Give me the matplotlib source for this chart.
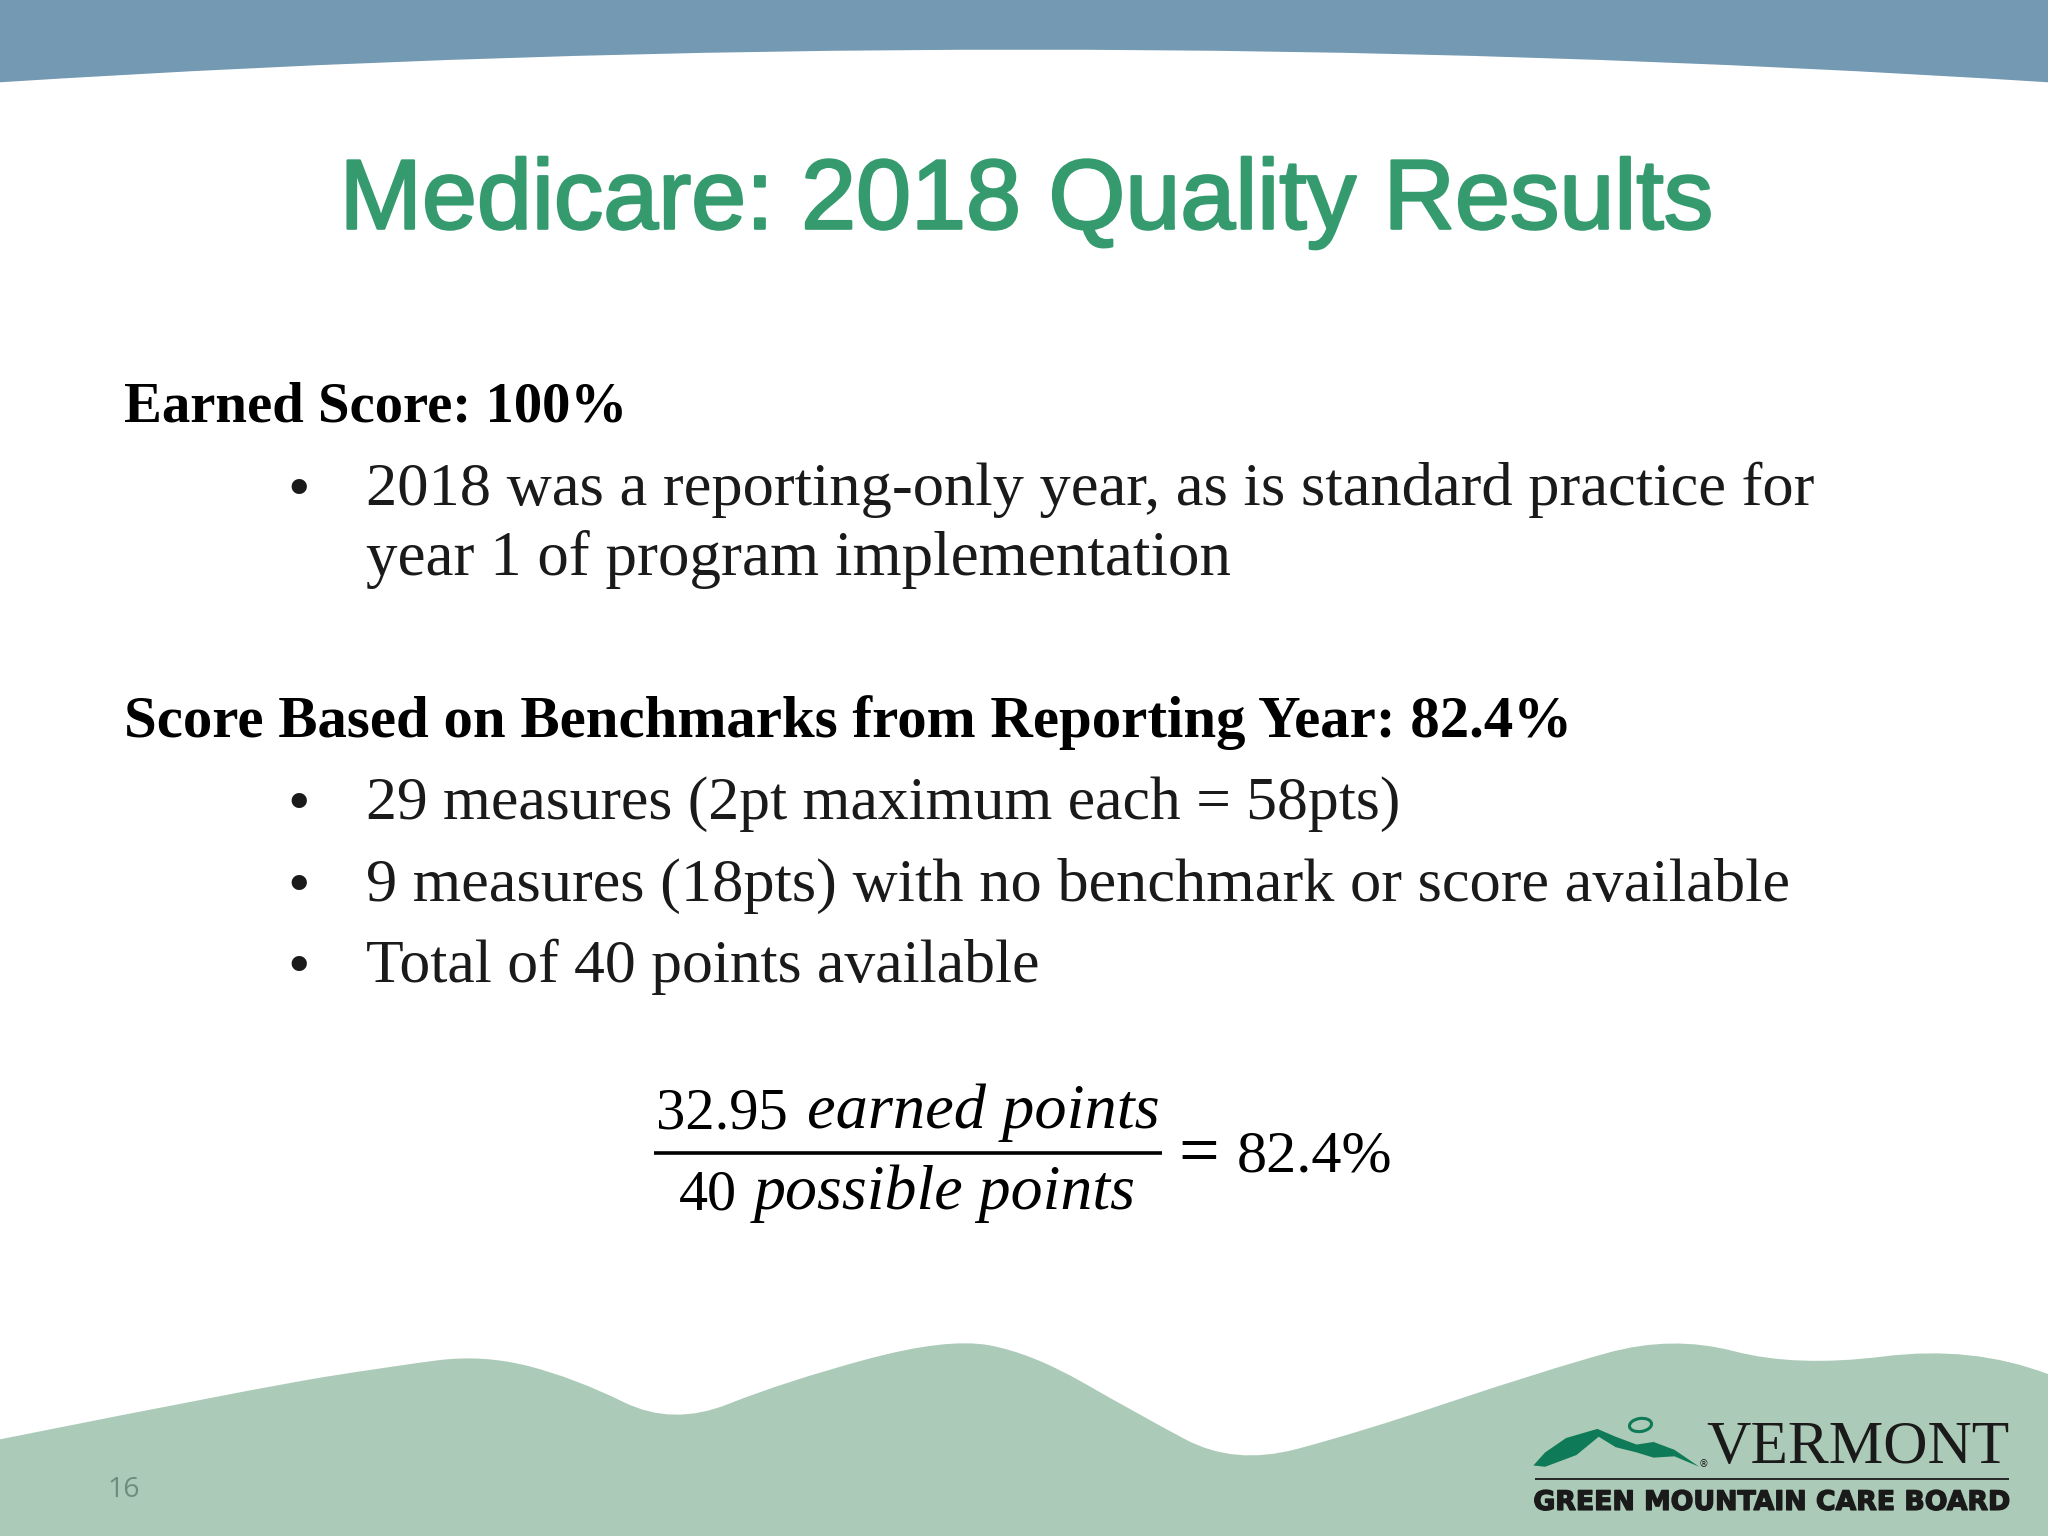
import matplotlib
matplotlib.use("Agg")
import matplotlib.pyplot as plt
import matplotlib.patheffects as pe
from matplotlib.patches import Ellipse, PathPatch, Polygon
from matplotlib.path import Path

TITLE = "Medicare: 2018 Quality Results"
HEADINGS = ["Earned Score: 100%", "Score Based on Benchmarks from Reporting Year: 82.4%"]
BULLET_LINES = [
    "2018 was a reporting-only year, as is standard practice for",
    "year 1 of program implementation",
    "29 measures (2pt maximum each = 58pts)",
    "9 measures (18pts) with no benchmark or score available",
    "Total of 40 points available",
]
NUMERATOR = ["32.95", "earned points"]
DENOMINATOR = ["40", "possible points"]
RESULT = "82.4%"
PAGE = "16"
LOGO_TOP = "VERMONT"
LOGO_BOTTOM = "GREEN MOUNTAIN CARE BOARD"

BLUE = "#7399b3"
HILL = "#abcab8"
GREEN = "#359b6f"
LOGO_GREEN = "#0f7a57"
INK = "#1a1a1a"

# positions below are read in a 1568 wide view of the slide
S = 2048 / 1568

fig = plt.figure(figsize=(20.48, 15.36), dpi=100, facecolor="white")
ax = fig.add_axes([0, 0, 1, 1])
ax.set_xlim(0, 1568)
ax.set_ylim(1176, 0)
ax.axis("off")
renderer = fig.canvas.get_renderer()


def put(text, x0, x1, base, family="Liberation Serif", **kw):
    # font size is chosen so the text fills x0..x1
    t = ax.text(x0, base, text, family=family, fontsize=20, va="baseline", ha="left", **kw)
    w = t.get_window_extent(renderer).width
    t.set_fontsize(20 * (x1 - x0) * S / w)
    return t


# top band
top = Path([(0, 0), (0, 63), (784, 13), (1568, 63), (1568, 0), (0, 0)],
           [Path.MOVETO, Path.LINETO, Path.CURVE3, Path.CURVE3, Path.LINETO, Path.CLOSEPOLY])
ax.add_patch(PathPatch(top, fc=BLUE, ec="none"))

# hills, quadratic segments between the midpoints of the control points
ctrl = [(200, 1062), (300, 1046), (370, 1037), (440, 1055), (515, 1092), (600, 1058),
        (725, 1024), (790, 1036), (870, 1082), (945, 1122), (1040, 1097), (1180, 1050),
        (1280, 1022), (1375, 1047), (1510, 1030)]
verts = [(0, 1176), (0, 1102)]
codes = [Path.MOVETO, Path.LINETO]
for a, b in zip(ctrl[:-1], ctrl[1:]):
    verts += [a, ((a[0] + b[0]) / 2, (a[1] + b[1]) / 2)]
    codes += [Path.CURVE3, Path.CURVE3]
verts += [ctrl[-1], (1568, 1052), (1568, 1176), (0, 1176)]
codes += [Path.CURVE3, Path.CURVE3, Path.LINETO, Path.CLOSEPOLY]
ax.add_patch(PathPatch(Path(verts, codes), fc=HILL, ec="none"))

# title, regular weight with a thin outline to get a medium look
t = put(TITLE, 260, 1310, 175, family="Liberation Sans", color=GREEN)
t.set_path_effects([pe.withStroke(linewidth=1.8, foreground=GREEN)])

# body
put(HEADINGS[0], 95, 480, 323, fontweight="bold", color="black")
put(BULLET_LINES[0], 280, 1388, 387, color=INK)
put(BULLET_LINES[1], 280, 943, 440, color=INK)
put(HEADINGS[1], 95, 1204, 564, fontweight="bold", color="black")
put(BULLET_LINES[2], 280, 1072, 627, color=INK)
put(BULLET_LINES[3], 280, 1370, 690, color=INK)
put(BULLET_LINES[4], 280, 795, 752, color=INK)
for y in [389, 629, 692, 754]:
    ax.text(229, y, "\u2022", family="Liberation Serif", fontsize=46, ha="center",
            va="baseline", color=INK)

# formula
put(NUMERATOR[0], 502, 603, 864, color="black")
put(NUMERATOR[1], 618, 888, 864, color="black", style="italic")
ax.plot([501, 890], [883, 883], color="black", lw=2.6, solid_capstyle="butt")
put(DENOMINATOR[0], 520, 564, 926, color="black")
put(DENOMINATOR[1], 577, 869, 926, color="black", style="italic")
put("=", 902, 933, 899, color="black")
put(RESULT, 947, 1066, 897, color="black")

# page number
put(PAGE, 82, 107, 1146, family="Open Sans", color="#6e8c7f")

# logo
mountain = [(1174, 1122), (1183, 1112), (1199, 1101), (1223, 1094), (1237, 1100),
            (1253, 1106), (1266, 1104), (1282, 1110), (1301, 1123), (1282, 1115),
            (1266, 1116), (1253, 1112), (1237, 1108), (1224, 1100), (1207, 1114), (1183, 1123)]
ax.add_patch(Polygon(mountain, closed=True, fc=LOGO_GREEN, ec="none"))
ax.add_patch(Ellipse((1256, 1091), 17, 10, angle=-8, fc="none", ec=LOGO_GREEN, lw=2.2))
ax.text(1304, 1123, "\u00ae", family="DejaVu Sans", fontsize=7, ha="center", va="baseline", color=INK)
put(LOGO_TOP, 1306, 1538, 1120, color=INK)
ax.plot([1175, 1538], [1132, 1132], color=INK, lw=1.3, solid_capstyle="butt")
b = put(LOGO_BOTTOM, 1174, 1538, 1156, family="DejaVu Sans", fontweight="bold", color=INK)
b.set_path_effects([pe.withStroke(linewidth=1.0, foreground=INK)])

fig.savefig("out.png", dpi=100, facecolor="white")
